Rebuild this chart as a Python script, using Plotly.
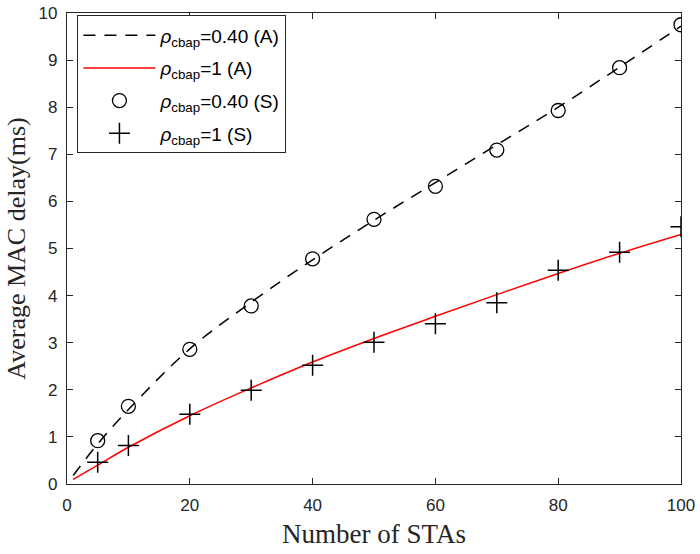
import plotly.graph_objects as go

# Analytic curves
x_ana = [1, 5, 10, 20, 30, 40, 50, 60, 70, 80, 90, 100]
y_ana_040 = [0.18, 0.85, 1.58, 2.87, 3.86, 4.76, 5.60, 6.40, 7.20, 8.00, 8.85, 9.72]
y_ana_1 = [0.10, 0.40, 0.78, 1.45, 2.04, 2.59, 3.09, 3.56, 4.02, 4.47, 4.90, 5.30]

# Simulation points
x_sim = [5, 10, 20, 30, 40, 50, 60, 70, 80, 90, 100]
y_sim_040 = [0.92, 1.65, 2.86, 3.78, 4.78, 5.62, 6.32, 7.09, 7.93, 8.84, 9.75]
y_sim_1 = [0.46, 0.82, 1.48, 1.99, 2.52, 3.01, 3.40, 3.85, 4.54, 4.92, 5.46]

names = ["<i>ρ</i><sub>cbap</sub>=0.40 (A)", "<i>ρ</i><sub>cbap</sub>=1 (A)",
         "<i>ρ</i><sub>cbap</sub>=0.40 (S)", "<i>ρ</i><sub>cbap</sub>=1 (S)"]

fig = go.Figure()
fig.add_trace(go.Scatter(x=x_ana, y=y_ana_040, mode="lines", name=names[0], legendgroup="a",
                         line=dict(color="black", width=1.5, dash="12px,9px"), line_shape="spline"))
fig.add_trace(go.Scatter(x=x_ana, y=y_ana_1, mode="lines", name=names[1], legendgroup="b",
                         line=dict(color="#ff0000", width=1.5), line_shape="spline"))
fig.add_trace(go.Scatter(x=x_sim, y=y_sim_040, mode="markers", name=names[2], legendgroup="c",
                         marker=dict(symbol="circle-open", size=14, color="black",
                                     line=dict(width=1.3, color="black"))))
fig.add_trace(go.Scatter(x=x_sim, y=y_sim_1, mode="markers", name=names[3], legendgroup="d",
                         marker=dict(symbol="cross-thin-open", size=15, color="black",
                                     line=dict(width=1.5, color="black"))))

axis_common = dict(showgrid=False, zeroline=False, showline=True, linecolor="#262626",
                   linewidth=1.2, mirror="allticks", ticks="inside", ticklen=6,
                   tickcolor="#262626", tickwidth=1, ticklabelstandoff=5, automargin=False,
                   tickfont=dict(family="Liberation Sans, Arial", size=17, color="#262626"))

fig.update_layout(
    width=700, height=554,
    margin=dict(l=67, r=19, t=13, b=70, autoexpand=False),
    paper_bgcolor="white", plot_bgcolor="white",
    xaxis=dict(range=[0, 100], tickvals=[0, 20, 40, 60, 80, 100],
               title=dict(text="Number of STAs", standoff=10,
                          font=dict(family="Liberation Serif, Times New Roman", size=27, color="#262626")),
               **axis_common),
    yaxis=dict(range=[0, 10], tickvals=list(range(0, 11)),
               title=dict(text="Average MAC delay(ms)", standoff=5,
                          font=dict(family="Liberation Serif, Times New Roman", size=26, color="#262626")),
               **axis_common),
    legend=dict(x=0.017, y=0.995, xanchor="left", yanchor="top",
                bgcolor="white", bordercolor="#262626", borderwidth=1,
                font=dict(family="Liberation Sans, Arial", size=19, color="black"),
                itemwidth=72, tracegroupgap=5),
    showlegend=True,
)

fig.write_html("out.html")
